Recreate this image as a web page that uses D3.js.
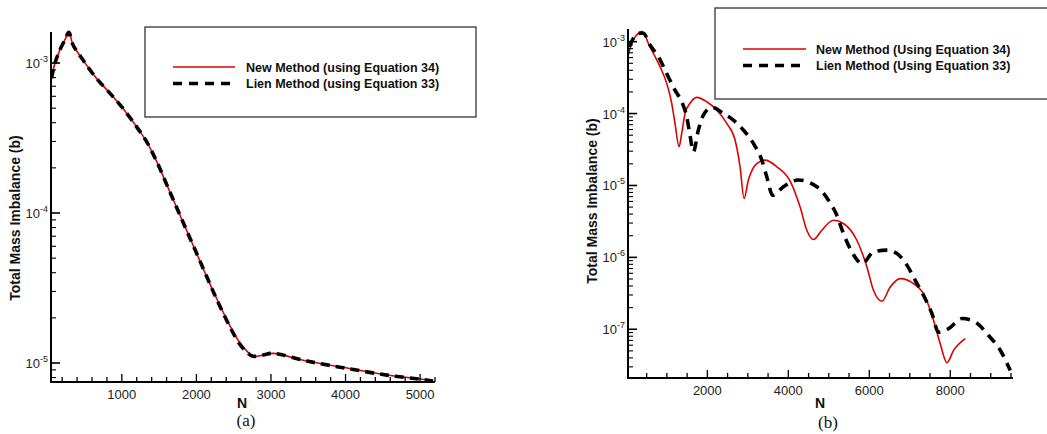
<!DOCTYPE html>
<html>
<head>
<meta charset="utf-8">
<script src="https://d3js.org/d3.v7.min.js"></script>
<style>
    body { margin: 0; background: #fff; }
    svg { display: block; font-family: 'Liberation Sans', Arial, sans-serif; }
    .tick-label { font-size: 13px; fill: #222; }
    .axis-title { font-size: 14px; font-weight: bold; fill: #111; }
    .legend-text { font-size: 12.5px; font-weight: bold; fill: #111; }
    .panel-label { font-family: 'Liberation Serif', 'Times New Roman', serif; font-size: 17px; fill: #111; }
</style>
</head>
<body>
<script>
// panel (a)
const aN = [56, 101, 168, 235, 289, 346, 477, 660, 839, 1013, 1201, 1336, 1470, 1604, 1738, 1872, 2007, 2141, 2275, 2450, 2584, 2678, 2758, 2893, 3027, 3483, 4020, 4557, 5000, 5174];
const aNew = [7.9e-4, 9.9e-4, 1.22e-3, 1.42e-3, 1.6e-3, 1.32e-3, 1.05e-3, 7.9e-4, 6.3e-4, 5.0e-4, 3.74e-4, 2.97e-4, 2.19e-4, 1.54e-4, 1.08e-4, 7.59e-5, 5.33e-5, 3.74e-5, 2.67e-5, 1.77e-5, 1.36e-5, 1.20e-5, 1.11e-5, 1.13e-5, 1.16e-5, 1.03e-5, 9.26e-6, 8.32e-6, 7.82e-6, 7.59e-6];
const aLien = [7.9e-4, 9.9e-4, 1.22e-3, 1.42e-3, 1.6e-3, 1.32e-3, 1.05e-3, 7.9e-4, 6.3e-4, 5.0e-4, 3.74e-4, 2.97e-4, 2.19e-4, 1.54e-4, 1.08e-4, 7.59e-5, 5.33e-5, 3.74e-5, 2.64e-5, 1.74e-5, 1.33e-5, 1.18e-5, 1.11e-5, 1.13e-5, 1.16e-5, 1.03e-5, 9.2e-6, 8.3e-6, 7.8e-6, 7.59e-6];

// panel (b)
const bNewN = [47, 131, 255, 378, 460, 541, 665, 831, 996, 1120, 1201, 1300, 1367, 1449, 1573, 1738, 1985, 2232, 2480, 2685, 2808, 2907, 3014, 3221, 3427, 3716, 4045, 4292, 4457, 4621, 4828, 5115, 5362, 5693, 5941, 6104, 6312, 6517, 6764, 7093, 7382, 7587, 7753, 7918, 8082, 8371];
const bNew = [6.5e-4, 9.5e-4, 1.24e-3, 1.38e-3, 1.24e-3, 9.5e-4, 6.9e-4, 4.5e-4, 2.63e-4, 1.39e-4, 7.3e-5, 3.45e-5, 5.3e-5, 1.0e-4, 1.39e-4, 1.68e-4, 1.46e-4, 1.12e-4, 7.3e-5, 4.28e-5, 1.82e-5, 6.6e-6, 1.19e-5, 2.02e-5, 2.25e-5, 1.82e-5, 1.15e-5, 5.0e-6, 2.38e-6, 1.77e-6, 2.38e-6, 3.29e-6, 2.96e-6, 1.73e-6, 7.35e-7, 3.48e-7, 2.45e-7, 3.87e-7, 5.07e-7, 4.32e-7, 2.81e-7, 1.33e-7, 6.3e-8, 3.43e-8, 5.08e-8, 7.4e-8];
const bLienN = [72, 171, 294, 418, 583, 789, 996, 1201, 1367, 1491, 1572, 1654, 1778, 1901, 2109, 2396, 2643, 2890, 3137, 3345, 3468, 3612, 3879, 4242, 4705, 4991, 5199, 5362, 5570, 5825, 6104, 6435, 6682, 6930, 7135, 7340, 7548, 7711, 7958, 8289, 8618, 8947, 9236, 9483];
const bLien = [8.5e-4, 1.11e-3, 1.31e-3, 1.31e-3, 9.0e-4, 6.2e-4, 3.6e-4, 2.12e-4, 1.46e-4, 9.0e-5, 5.0e-5, 2.94e-5, 5.9e-5, 9.5e-5, 1.22e-4, 1.0e-4, 8.1e-5, 5.9e-5, 3.84e-5, 2.25e-5, 1.32e-5, 7.3e-6, 9.6e-6, 1.19e-5, 9.6e-6, 6.25e-6, 3.86e-6, 2.14e-6, 1.19e-6, 8.2e-7, 1.19e-6, 1.26e-6, 1.13e-6, 7.8e-7, 4.8e-7, 2.96e-7, 1.65e-7, 9.1e-8, 1.02e-7, 1.41e-7, 1.26e-7, 8.2e-8, 5.1e-8, 2.67e-8];

const aXTicks = [1000, 2000, 3000, 4000, 5000];
const bXTicks = [2000, 4000, 6000, 8000];
const aYTicks = [-5, -4, -3];
const bYTicks = [-7, -6, -5, -4, -3];

const aLegend = ['New Method (using Equation 34)', 'Lien Method (using Equation 33)'];
const bLegend = ['New Method (Using Equation 34)', 'Lien Method (Using Equation 33)'];

const red = '#dd0000';

const svg = d3.select('body').append('svg')
    .attr('width', 1047)
    .attr('height', 434);

function panel(cfg) {
    const x = d3.scaleLinear().domain(cfg.xDomain).range([cfg.left, cfg.right]);
    const y = d3.scaleLog().domain(cfg.yDomain).range([cfg.bottom, cfg.top]);
    const g = svg.append('g');

    g.append('clipPath').attr('id', cfg.id)
        .append('rect')
        .attr('x', cfg.left).attr('y', cfg.top - 2)
        .attr('width', cfg.right - cfg.left).attr('height', cfg.bottom - cfg.top + 2);

    const line = d3.line()
        .x(d => x(d[0]))
        .y(d => y(d[1]))
        .curve(cfg.curve);

    g.append('path')
        .datum(d3.zip(cfg.newN, cfg.newV))
        .attr('clip-path', `url(#${cfg.id})`)
        .attr('fill', 'none')
        .attr('stroke', red)
        .attr('stroke-width', 1.6)
        .attr('d', line);

    g.append('path')
        .datum(d3.zip(cfg.lienN, cfg.lienV))
        .attr('clip-path', `url(#${cfg.id})`)
        .attr('fill', 'none')
        .attr('stroke', '#000')
        .attr('stroke-width', 3.6)
        .attr('stroke-dasharray', cfg.dash)
        .attr('d', line);

    // x ticks point inward, minor every step
    const xMinor = d3.range(cfg.xMinorStep, cfg.xDomain[1] + 1, cfg.xMinorStep);
    g.selectAll('.xminor').data(xMinor).enter().append('line')
        .attr('x1', d => x(d)).attr('x2', d => x(d))
        .attr('y1', cfg.bottom).attr('y2', d => cfg.bottom - (cfg.xTicks.includes(d) ? 8 : 5))
        .attr('stroke', '#000').attr('stroke-width', 1.3);

    g.selectAll('.xlab').data(cfg.xTicks).enter().append('text')
        .attr('class', 'tick-label')
        .attr('x', d => x(d))
        .attr('y', cfg.bottom + 17)
        .attr('text-anchor', 'middle')
        .text(d => d);

    // y ticks, log decades with minor 2..9
    const yMinor = [];
    d3.range(cfg.yTicks[0] - 1, cfg.yTicks[cfg.yTicks.length - 1] + 1).forEach(k => {
        for (let m = 2; m <= 9; m++) {
            const v = m * Math.pow(10, k);
            if (v >= cfg.yDomain[0] && v <= cfg.yDomain[1]) yMinor.push(v);
        }
    });
    g.selectAll('.yminor').data(yMinor).enter().append('line')
        .attr('x1', cfg.left).attr('x2', cfg.left + 5)
        .attr('y1', d => y(d)).attr('y2', d => y(d))
        .attr('stroke', '#000').attr('stroke-width', 1.1);

    g.selectAll('.ymajor').data(cfg.yTicks).enter().append('line')
        .attr('x1', cfg.left).attr('x2', cfg.left + 9)
        .attr('y1', d => y(Math.pow(10, d))).attr('y2', d => y(Math.pow(10, d)))
        .attr('stroke', '#000').attr('stroke-width', 1.6);

    const ylab = g.selectAll('.ylab').data(cfg.yTicks).enter().append('text')
        .attr('class', 'tick-label')
        .attr('x', cfg.left - 3)
        .attr('y', d => y(Math.pow(10, d)) + 5)
        .attr('text-anchor', 'end');
    ylab.append('tspan').text('10');
    ylab.append('tspan').attr('dy', -6).attr('font-size', 9).text(d => d);

    // axis lines
    g.append('path')
        .attr('d', `M${cfg.left},${cfg.top}V${cfg.bottom}H${cfg.right}`)
        .attr('fill', 'none')
        .attr('stroke', '#000')
        .attr('stroke-width', 2);

    // titles
    g.append('text')
        .attr('class', 'axis-title')
        .attr('transform', `translate(${cfg.yTitle[0]},${cfg.yTitle[1]}) rotate(-90)`)
        .attr('text-anchor', 'middle')
        .attr('dy', '0.35em')
        .text('Total Mass Imbalance (b)');

    g.append('text')
        .attr('class', 'axis-title')
        .attr('x', cfg.nLabel[0]).attr('y', cfg.nLabel[1])
        .attr('text-anchor', 'middle')
        .text('N');

    g.append('text')
        .attr('class', 'panel-label')
        .attr('x', cfg.pLabel[0]).attr('y', cfg.pLabel[1])
        .attr('text-anchor', 'middle')
        .text(cfg.pText);

    // legend
    const lg = cfg.legend;
    g.append('rect')
        .attr('x', lg.x).attr('y', lg.y)
        .attr('width', lg.w).attr('height', lg.h)
        .attr('fill', '#fff')
        .attr('stroke', '#333')
        .attr('stroke-width', 1.3);

    g.append('line')
        .attr('x1', lg.lx).attr('x2', lg.lx + lg.lw)
        .attr('y1', lg.ry).attr('y2', lg.ry)
        .attr('stroke', red).attr('stroke-width', 1.6);

    g.append('line')
        .attr('x1', lg.lx).attr('x2', lg.lx + lg.lw)
        .attr('y1', lg.ry + lg.gap).attr('y2', lg.ry + lg.gap)
        .attr('stroke', '#000').attr('stroke-width', 3.6)
        .attr('stroke-dasharray', '9,7');

    g.selectAll('.legend-text').data(lg.labels).enter().append('text')
        .attr('class', 'legend-text')
        .attr('x', lg.tx)
        .attr('y', (d, i) => lg.ry + i * lg.gap + 4.5)
        .text(d => d);
}

panel({
    id: 'clipA',
    xDomain: [50, 5200], yDomain: [7.47e-6, 1.61e-3],
    left: 51, right: 435, top: 32, bottom: 382,
    xTicks: aXTicks, xMinorStep: 200, yTicks: aYTicks,
    newN: aN, newV: aNew, lienN: aN, lienV: aLien,
    curve: d3.curveCatmullRom.alpha(0.5),
    dash: '9,6',
    yTitle: [15, 218], nLabel: [242, 408], pLabel: [246, 426], pText: '(a)',
    legend: { x: 145, y: 27, w: 331, h: 90, lx: 173, lw: 62, ry: 67, gap: 16.5, tx: 246, labels: aLegend }
});

panel({
    id: 'clipB',
    xDomain: [40, 9550], yDomain: [2.1e-8, 1.5e-3],
    left: 628, right: 1013, top: 29, bottom: 378,
    xTicks: bXTicks, xMinorStep: 500, yTicks: bYTicks,
    newN: bNewN, newV: bNew, lienN: bLienN, lienV: bLien,
    curve: d3.curveMonotoneX,
    dash: '10,7',
    yTitle: [592, 201], nLabel: [820, 408], pLabel: [828, 428], pText: '(b)',
    legend: { x: 715, y: 8, w: 340, h: 91, lx: 743, lw: 63, ry: 49, gap: 16.5, tx: 816, labels: bLegend }
});
</script>
</body>
</html>
